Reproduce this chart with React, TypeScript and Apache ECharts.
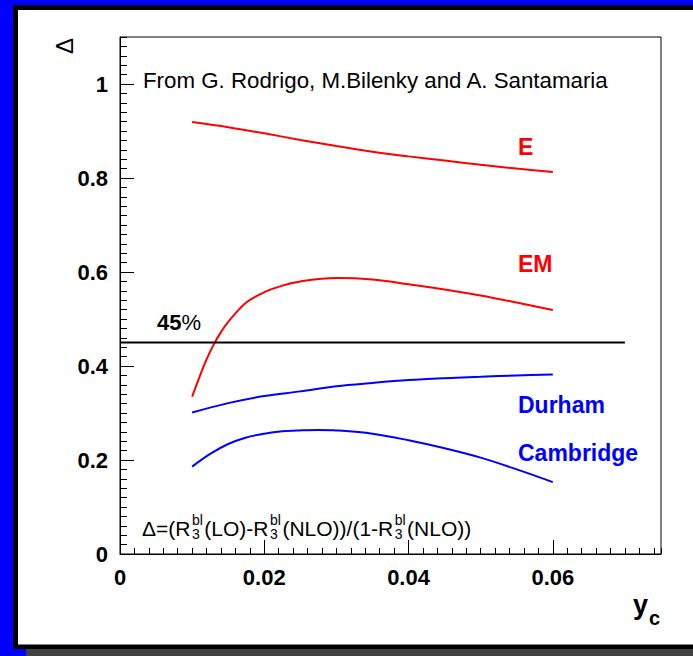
import { useEffect, useRef } from "react";
import * as echarts from "echarts";

const FONT = '"Liberation Sans", Arial, Helvetica, sans-serif';

// y_c values and Delta values
const xE = [0.01, 0.015, 0.02, 0.025, 0.03, 0.035, 0.04, 0.045, 0.05, 0.055, 0.06];
const yE = [0.919, 0.908, 0.895, 0.881, 0.868, 0.856, 0.846, 0.837, 0.828, 0.82, 0.813];

const xEM = [0.01, 0.011, 0.012, 0.013, 0.014, 0.015, 0.0175, 0.02, 0.0225, 0.025, 0.03, 0.035, 0.04, 0.045, 0.05, 0.055, 0.06];
const yEM = [0.335, 0.376, 0.414, 0.446, 0.472, 0.494, 0.535, 0.557, 0.571, 0.58, 0.587, 0.584, 0.574, 0.563, 0.55, 0.535, 0.519];

const xDurham = [0.01, 0.015, 0.02, 0.025, 0.03, 0.035, 0.04, 0.045, 0.05, 0.055, 0.06];
const yDurham = [0.301, 0.321, 0.336, 0.346, 0.357, 0.364, 0.37, 0.374, 0.377, 0.38, 0.382];

const xCambridge = [0.01, 0.0125, 0.015, 0.0175, 0.02, 0.0225, 0.025, 0.0275, 0.03, 0.035, 0.04, 0.045, 0.05, 0.055, 0.06];
const yCambridge = [0.186, 0.213, 0.234, 0.248, 0.256, 0.261, 0.263, 0.264, 0.263, 0.256, 0.242, 0.225, 0.205, 0.18, 0.153];

const xRef = [0, 0.07];
const yRef = [0.45, 0.45];

const xTicksMajor = 0.02;
const xTicksMinor = 0.002;
const yTicksMajor = 0.2;
const yTicksMinor = 0.02;

// formula pieces: main text segments, each followed (except the last) by a stacked "bl" over "3"
const formulaMain = ["Δ=(R", "(LO)-R", "(NLO))/(1-R", "(NLO))"];
const formulaSup = "bl";
const formulaSub = "3";

const pairs = (xs: number[], ys: number[]) => xs.map((x, i) => [x, ys[i]]);

function measure(text: string, font: string): number {
  const c = document.createElement("canvas").getContext("2d");
  if (!c) return text.length * 10;
  c.font = font;
  return c.measureText(text).width;
}

export default function App() {
  const ref = useRef<HTMLDivElement>(null);
  useEffect(() => {
    const chart = echarts.init(ref.current!, null, { renderer: "svg", width: 693, height: 656 });
    const black = "#000";
    const lineSeries = (name: string, data: number[][], color: string, smooth: any = 0.35) => ({
      name,
      type: "line",
      xAxisIndex: 0,
      yAxisIndex: 0,
      data,
      smooth,
      symbol: "none",
      showSymbol: false,
      lineStyle: { color, width: 2 },
      z: 3,
    });

    // formula layout
    const mainSize = 21;
    const smallSize = 14;
    const mainFont = `${mainSize}px ${FONT}`;
    const smallFont = `${smallSize}px ${FONT}`;
    const stackW = Math.max(measure(formulaSup, smallFont), measure(formulaSub, smallFont));
    const gap = 1.5;
    const formulaEls: any[] = [];
    let fx = 142;
    const fyTop = 513;
    formulaMain.forEach((seg, i) => {
      formulaEls.push({
        type: "text",
        z: 10,
        x: fx,
        y: fyTop,
        style: {
          text: seg,
          fontFamily: FONT,
          fontSize: mainSize,
          lineHeight: 30,
          fill: black,
          align: "left",
          verticalAlign: "top",
        },
      });
      fx += measure(seg, mainFont) + gap;
      if (i < formulaMain.length - 1) {
        formulaEls.push({
          type: "text",
          z: 10,
          x: fx,
          y: fyTop - 0.5,
          style: {
            text: `${formulaSup}\n${formulaSub}`,
            fontFamily: FONT,
            fontSize: smallSize,
            lineHeight: 14.6,
            fill: black,
            align: "left",
            verticalAlign: "top",
          },
        });
        fx += stackW + gap;
      }
    });

    chart.setOption({
      animation: false,
      backgroundColor: "#0000ff",
      grid: {
        left: 120,
        top: 37,
        width: 541,
        height: 517,
        show: true,
        borderColor: black,
        borderWidth: 1,
        backgroundColor: "transparent",
      },
      xAxis: [
        {
          type: "value",
          position: "bottom",
          min: 0,
          max: 0.075,
          interval: xTicksMajor,
          axisLine: { show: true, onZero: false, lineStyle: { color: black, width: 1 } },
          axisTick: { show: true, inside: true, length: 14, lineStyle: { color: black, width: 1 } },
          axisLabel: {
            show: true,
            margin: 12,
            fontFamily: FONT,
            fontWeight: "bold",
            fontSize: 22,
            color: black,
            showMaxLabel: false,
            formatter: (v: number) => (v === 0 ? "0" : v.toFixed(2)),
          },
          splitLine: { show: false },
        },
        {
          type: "value",
          position: "bottom",
          min: 0,
          max: 0.075,
          interval: xTicksMinor,
          axisLine: { show: false, onZero: false },
          axisTick: { show: true, inside: true, length: 6, lineStyle: { color: black, width: 1 } },
          axisLabel: { show: false },
          splitLine: { show: false },
        },
      ],
      yAxis: [
        {
          type: "value",
          position: "left",
          min: 0,
          max: 1.1,
          interval: yTicksMajor,
          axisLine: { show: true, onZero: false, lineStyle: { color: black, width: 1 } },
          axisTick: { show: true, inside: true, length: 14, lineStyle: { color: black, width: 1 } },
          axisLabel: {
            show: true,
            margin: 12,
            fontFamily: FONT,
            fontWeight: "bold",
            fontSize: 22,
            color: black,
            showMaxLabel: false,
            formatter: (v: number) => (v === 0 ? "0" : v === 1 ? "1" : v.toFixed(1)),
          },
          splitLine: { show: false },
        },
        {
          type: "value",
          position: "left",
          min: 0,
          max: 1.1,
          interval: yTicksMinor,
          axisLine: { show: false, onZero: false },
          axisTick: { show: true, inside: true, length: 7, lineStyle: { color: black, width: 1 } },
          axisLabel: { show: false },
          splitLine: { show: false },
        },
      ],
      series: [
        lineSeries("E", pairs(xE, yE), "#ff0000"),
        lineSeries("EM", pairs(xEM, yEM), "#ff0000"),
        lineSeries("Durham", pairs(xDurham, yDurham), "#0000ff"),
        lineSeries("Cambridge", pairs(xCambridge, yCambridge), "#0000ff"),
        lineSeries("45%", pairs(xRef, yRef), black, false),
      ],
      graphic: [
        { type: "rect", z: -20, silent: true, shape: { x: 13, y: 5, width: 700, height: 644 }, style: { fill: "#000" } },
        { type: "rect", z: -19, silent: true, shape: { x: 18, y: 10, width: 700, height: 634.5 }, style: { fill: "#fff" } },
        { type: "rect", z: -18, silent: true, shape: { x: 26, y: 649, width: 700, height: 10 }, style: { fill: "#404040" } },
        {
          type: "text",
          z: 10,
          x: 64,
          y: 46,
          rotation: Math.PI / 2,
          style: { text: "Δ", fontFamily: FONT, fontSize: 24, fill: black, align: "center", verticalAlign: "middle" },
        },
        {
          type: "text",
          z: 10,
          x: 143,
          y: 80,
          style: {
            text: "From G. Rodrigo, M.Bilenky and A. Santamaria",
            fontFamily: FONT,
            fontSize: 22.3,
            fill: black,
            align: "left",
            verticalAlign: "middle",
          },
        },
        { type: "text", z: 10, x: 518, y: 147, style: { text: "E", fontFamily: FONT, fontSize: 23, fontWeight: "bold", fill: "#ff0000", align: "left", verticalAlign: "middle" } },
        { type: "text", z: 10, x: 518, y: 264, style: { text: "EM", fontFamily: FONT, fontSize: 23, fontWeight: "bold", fill: "#ff0000", align: "left", verticalAlign: "middle" } },
        { type: "text", z: 10, x: 518, y: 405, style: { text: "Durham", fontFamily: FONT, fontSize: 23, fontWeight: "bold", fill: "#0000ff", align: "left", verticalAlign: "middle" } },
        { type: "text", z: 10, x: 518, y: 453, style: { text: "Cambridge", fontFamily: FONT, fontSize: 23, fontWeight: "bold", fill: "#0000ff", align: "left", verticalAlign: "middle" } },
        {
          type: "text",
          z: 10,
          x: 157,
          y: 322,
          style: {
            text: "{a|45}{b|%}",
            align: "left",
            verticalAlign: "middle",
            rich: {
              a: { fontFamily: FONT, fontSize: 22, fontWeight: "bold", fill: black },
              b: { fontFamily: FONT, fontSize: 22, fontWeight: "normal", fill: black },
            },
          },
        },
        ...formulaEls,
        { type: "text", z: 10, x: 633, y: 605, style: { text: "y", fontFamily: FONT, fontSize: 27, fontWeight: "bold", fill: black, align: "left", verticalAlign: "middle" } },
        { type: "text", z: 10, x: 649, y: 618, style: { text: "c", fontFamily: FONT, fontSize: 20, fontWeight: "bold", fill: black, align: "left", verticalAlign: "middle" } },
      ],
    });
    return () => chart.dispose();
  }, []);
  return <div ref={ref} style={{ position: "absolute", left: 0, top: 0, width: 693, height: 656 }} />;
}
